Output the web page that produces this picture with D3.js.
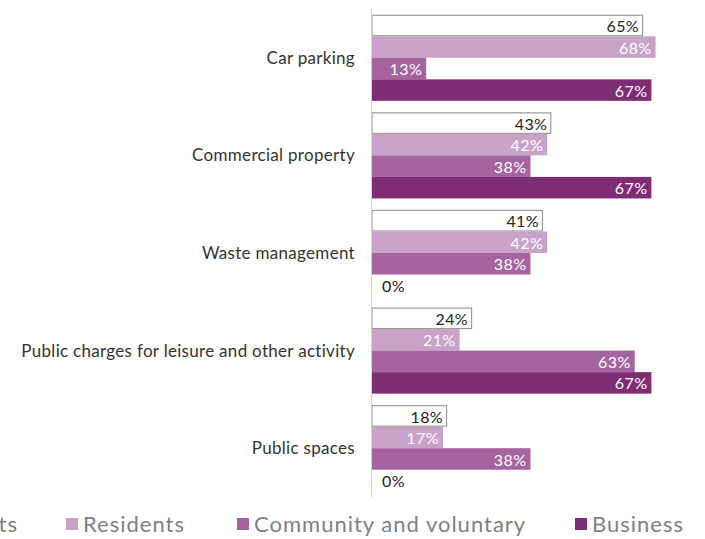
<!DOCTYPE html>
<html>
<head>
<meta charset="utf-8">
<script src="https://cdn.jsdelivr.net/npm/d3@7"></script>
<style>
  body { margin: 0; background: #fff; }
  svg { font-family: "Lato", "Open Sans", sans-serif; }
</style>
</head>
<body>
<div id="chart"></div>
<script>
var categories = ["Car parking", "Commercial property", "Waste management",
    "Public charges for leisure and other activity", "Public spaces"];
var seriesNames = ["All respondents", "Residents", "Community and voluntary", "Business"];
var allRespondents = [0.65, 0.43, 0.41, 0.24, 0.18];
var residents = [0.68, 0.42, 0.42, 0.21, 0.17];
var community = [0.13, 0.38, 0.38, 0.63, 0.38];
var business = [0.67, 0.67, 0, 0.67, 0];

var seriesValues = [allRespondents, residents, community, business];
var colors = ["#ffffff", "#c9a2c8", "#a5639f", "#7e2d73"];
var labelColors = ["#222", "#fff", "#fff", "#fff"];

var width = 705, height = 539;

var svg = d3.select("#chart")
    .append("svg")
        .attr("width", width)
        .attr("height", height);

var x = d3.scaleLinear().domain([0, 1]).range([372, 789]);
var y0 = d3.scaleBand().domain(categories).range([9, 497])
    .paddingInner(0.118).paddingOuter(0.059);
var y1 = d3.scaleBand().domain(seriesNames).range([0, y0.bandwidth()]);

// category labels
svg.append("g")
    .selectAll("text")
    .data(categories)
    .enter()
    .append("text")
        .attr("x", 355)
        .attr("y", function(d){ return y0(d) + y0.bandwidth() / 2; })
        .attr("dy", "0.35em")
        .attr("text-anchor", "end")
        .attr("font-size", "17px")
        .attr("letter-spacing", "0.3px")
        .style("fill", "#333")
        .text(function(d){ return d; });

var rows = [];
categories.forEach(function(c, i){
    seriesNames.forEach(function(s, j){
        rows.push({cat: c, series: s, idx: j, value: seriesValues[j][i]});
    });
});

var groups = svg.append("g");

groups.selectAll("rect")
    .data(rows.filter(function(d){ return d.value > 0; }))
    .enter()
    .append("rect")
        .attr("x", x(0))
        .attr("y", function(d){ return y0(d.cat) + y1(d.series) + (d.idx == 0 ? 0.5 : 0); })
        .attr("width", function(d){ return x(d.value) - x(0) - (d.idx == 0 ? 0.5 : 0); })
        .attr("height", function(d){ return y1.bandwidth() - (d.idx == 0 ? 1 : 0); })
        .style("fill", function(d){ return colors[d.idx]; })
        .style("stroke", function(d){ return d.idx == 0 ? "#9a9a9a" : "none"; })
        .style("stroke-width", 1.2);

groups.selectAll("text")
    .data(rows)
    .enter()
    .append("text")
        .attr("x", function(d){ return d.value > 0 ? x(d.value) - 4 : x(0) + 10; })
        .attr("y", function(d){ return y0(d.cat) + y1(d.series) + y1.bandwidth() / 2 + 1; })
        .attr("dy", "0.35em")
        .attr("text-anchor", function(d){ return d.value > 0 ? "end" : "start"; })
        .attr("font-size", "16px")
        .attr("letter-spacing", "0.4px")
        .style("fill", function(d){ return d.value > 0 ? labelColors[d.idx] : "#222"; })
        .text(function(d){ return Math.round(d.value * 100) + "%"; });

// axis line
svg.append("line")
    .attr("x1", x(0) - 0.5).attr("x2", x(0) - 0.5)
    .attr("y1", y0.range()[0]).attr("y2", y0.range()[1])
    .style("stroke", "#d4d4d4")
    .style("stroke-width", 1);

// legend
var legendTextX = [18, 83, 254, 592];
var legend = svg.append("g")
    .selectAll("g")
    .data(seriesNames)
    .enter()
    .append("g");

legend.append("text")
    .attr("x", function(d, i){ return legendTextX[i]; })
    .attr("y", 524)
    .attr("dy", "0.35em")
    .attr("text-anchor", function(d, i){ return i == 0 ? "end" : "start"; })
    .attr("font-size", "22px")
    .attr("letter-spacing", "1px")
    .style("fill", "#7f7f7f")
    .text(function(d){ return d; });

legend.append("rect")
    .attr("x", function(d, i){
        if (i == 0) {
            return legendTextX[0] - 180;
        }
        return legendTextX[i] - 17;
    })
    .attr("y", 518)
    .attr("width", 12)
    .attr("height", 12)
    .style("fill", function(d, i){ return colors[i]; })
    .style("stroke", function(d, i){ return i == 0 ? "#9a9a9a" : "none"; });
</script>
</body>
</html>
